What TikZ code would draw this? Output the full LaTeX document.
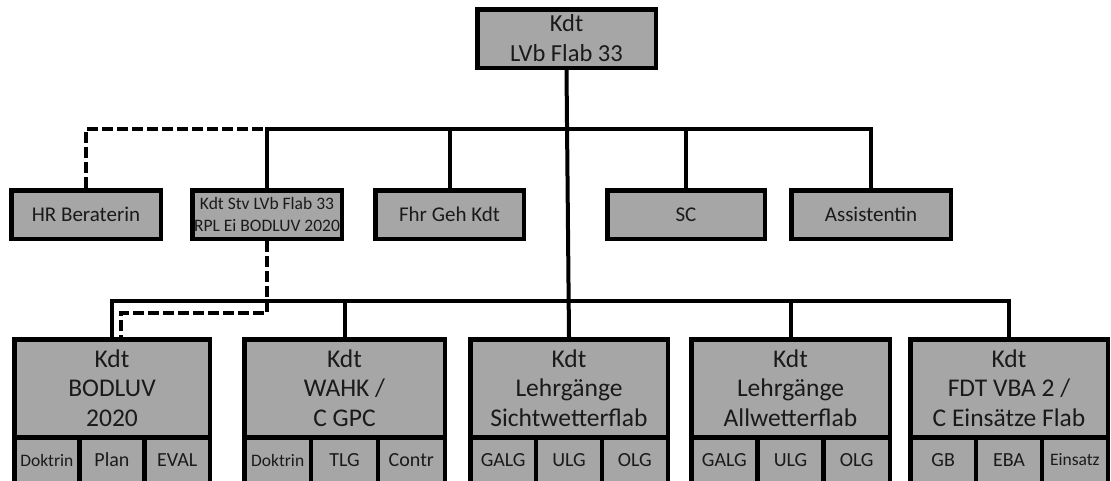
\documentclass[tikz,border=0pt]{standalone}
\usepackage{fontspec}
\setmainfont{Carlito}
\definecolor{boxgray}{HTML}{A6A6A6}
\definecolor{txt}{HTML}{1A1A1A}
\newcommand\subsm{\fontsize{17.5}{19}\selectfont}
\newcommand\orgunit[7]{%
  \pgfmathsetmacro\ul{#2+2.25}%
  \pgfmathsetmacro\uw{#3-#2-4.5}%
  \pgfmathsetmacro\uc{\ul+\uw/2}%
  \pgfmathsetmacro\us{\uw/3}%
  \node[unitbox, minimum width=\uw pt] (#1) at (\uc,388) {#4};
  \node[subbox, minimum width=\us pt] (#1a) at (\ul+\us/2,460) {#5};
  \node[subbox, minimum width=\us pt] (#1b) at (\ul+3*\us/2,460) {#6};
  \node[subbox, minimum width=\us pt] (#1c) at (\ul+5*\us/2,460) {#7};
}
\begin{document}
\begin{tikzpicture}[x=1pt,y=-1pt,
  box/.style={draw=black, line width=4.5pt, fill=boxgray, inner sep=0pt, align=center, text=txt},
  topbox/.style={box, font=\fontsize{24.5}{30}\selectfont},
  midbox/.style={box, minimum height=48.5pt, font=\fontsize{21}{24}\selectfont},
  unitbox/.style={box, minimum height=97.5pt, font=\fontsize{25.5}{29.5}\selectfont},
  subbox/.style={box, minimum height=45.5pt, font=\fontsize{20}{22}\selectfont},
  link/.style={line width=4pt},
  dlink/.style={line width=4pt, dash pattern=on 11pt off 4pt}]
\useasboundingbox (0,0) rectangle (1111,480);
\clip (0,0) rectangle (1111,480);

\node[topbox, minimum width=178.5pt, minimum height=58.5pt] (kdt) at (566.5,38.5) {Kdt\\LVb Flab 33};

\node[midbox, minimum width=149.5pt] (hr) at (86,214.5) {HR Beraterin};
\node[midbox, minimum width=149.5pt, font=\fontsize{17.5}{22}\selectfont] (stv) at (267,214.5) {Kdt Stv LVb Flab 33\\RPL Ei BODLUV 2020};
\node[midbox, minimum width=148.5pt] (fhr) at (449.5,214.5) {Fhr Geh Kdt};
\node[midbox, minimum width=157.5pt] (sc) at (686,214.5) {SC};
\node[midbox, minimum width=159.5pt] (ass) at (871,214.5) {Assistentin};

\orgunit{bod}{12}{212}{Kdt\\BODLUV\\2020}{\subsm Doktrin}{Plan}{EVAL}
\orgunit{wahk}{242}{447}{Kdt\\WAHK /\\C GPC}{\subsm Doktrin}{TLG}{Contr}
\orgunit{sicht}{468}{670}{Kdt\\Lehrgänge\\Sichtwetterflab}{GALG}{ULG}{OLG}
\orgunit{allw}{689}{892}{Kdt\\Lehrgänge\\Allwetterflab}{GALG}{ULG}{OLG}
\orgunit{fdt}{908}{1110}{Kdt\\FDT VBA 2 /\\C Einsätze Flab}{GB}{EBA}{\subsm Einsatz}

\coordinate (ub) at (566.5,129);
\coordinate (lb) at (566.5,301);
\coordinate (dl) at (121,313);

\draw[link] (kdt.south) -- (sicht.north);
\draw[link] (stv.north) |- (ub) -| (ass.north);
\draw[link] (fhr.north) -- (fhr.north |- ub);
\draw[link] (sc.north) -- (sc.north |- ub);
\draw[dlink] (hr.north) |- (stv.north |- ub);
\draw[link] (bod.north) |- (lb) -| (fdt.north);
\draw[link] (wahk.north) -- (wahk.north |- lb);
\draw[link] (allw.north) -- (allw.north |- lb);
\draw[dlink] (stv.south) |- (dl) -- (dl |- bod.north);
\end{tikzpicture}
\end{document}
